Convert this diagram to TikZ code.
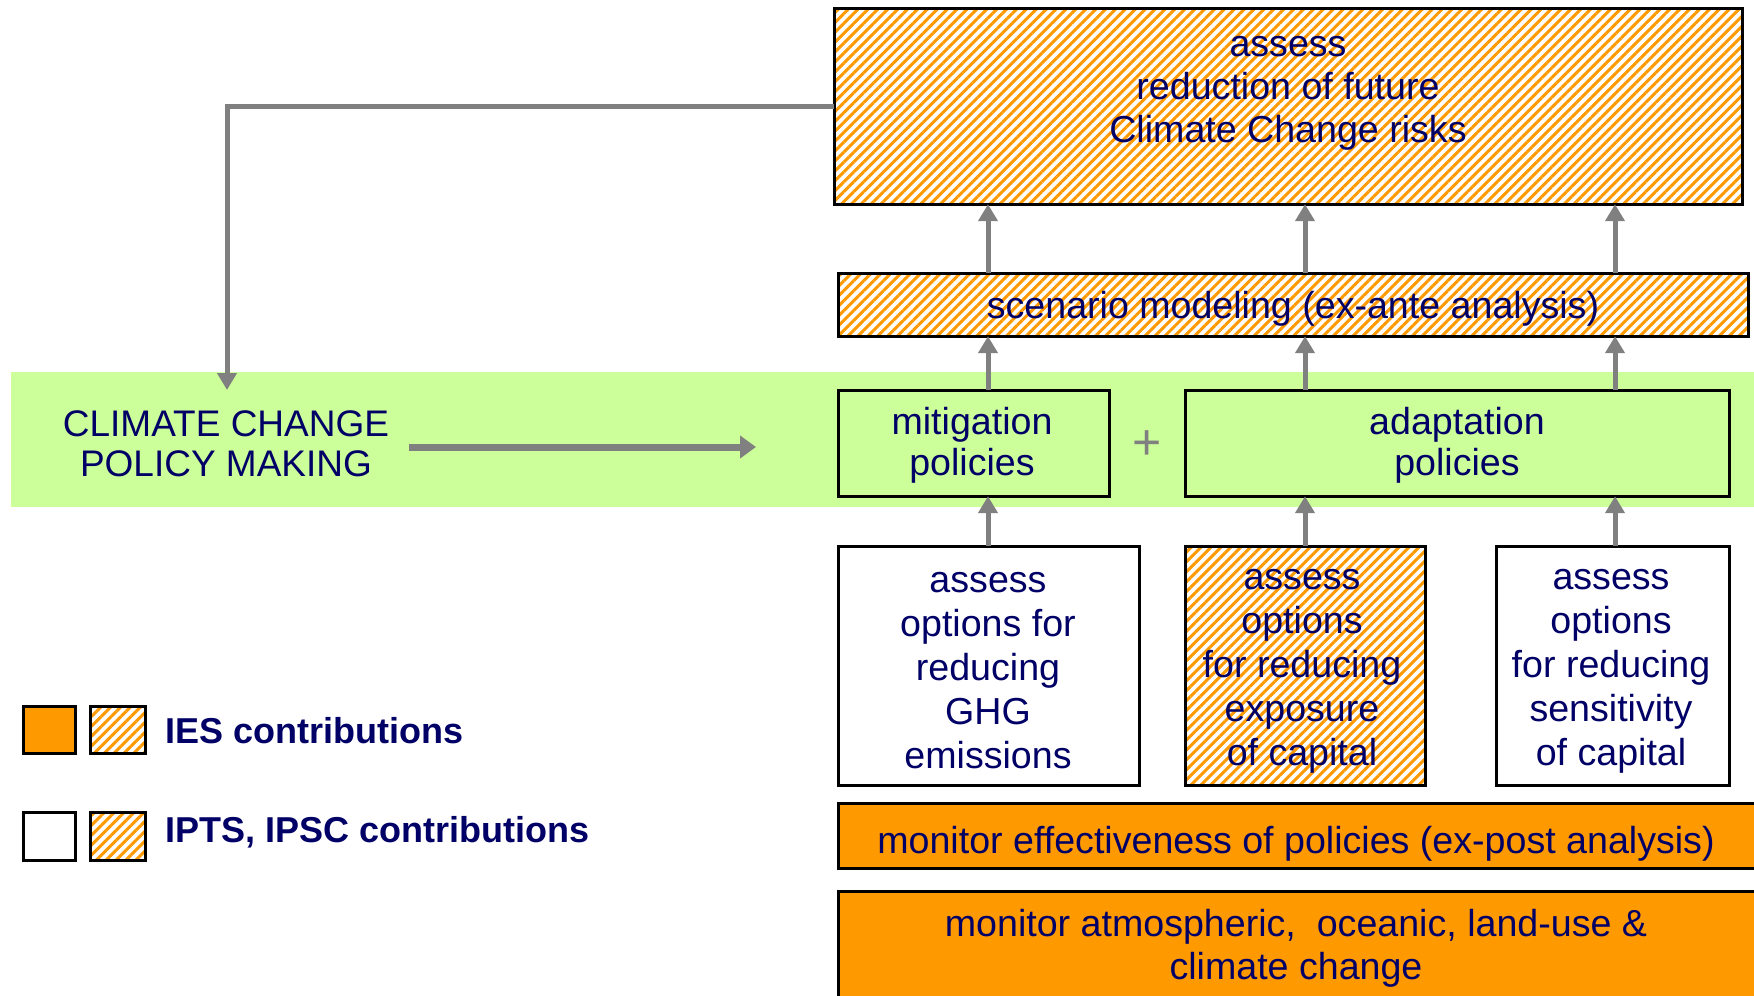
\documentclass[tikz,border=0pt]{standalone}
\usepackage{fontspec}
\setmainfont{Liberation Sans}
\usetikzlibrary{arrows.meta,patterns.meta}
\definecolor{ora}{RGB}{255,153,0}
\definecolor{grn}{RGB}{204,255,153}
\definecolor{arrg}{RGB}{128,128,128}
\definecolor{navy}{RGB}{0,0,102}
\tikzset{
  box/.style={draw=black, line width=3pt, inner sep=0pt, outer sep=0pt},
  hatch/.style={box, pattern={Lines[angle=45,distance=7pt,line width=3pt]}, pattern color=ora},
  solid/.style={box, fill=ora},
  green/.style={box, fill=grn},
  white/.style={box, fill=white},
  txt/.style={text=navy, align=center, font=\fontsize{37.6}{43}\selectfont, inner sep=0pt},
  arr/.style={draw=arrg, line width=5pt, -{Triangle[width=19pt,length=17pt]}},
  harr/.style={draw=arrg, line width=7pt, -{Triangle[width=22pt,length=16pt]}},
}
\begin{document}
\begin{tikzpicture}[x=1pt,y=-1pt]
\useasboundingbox (0,0) rectangle (1754,996);
\clip (0,0) rectangle (1754,996);
% green band
\fill[grn] (11,372) rectangle (1760,507);
% boxes
\draw[hatch] (834,8) rectangle (1742,204);
\node[inner sep=0pt, minimum width=908pt, minimum height=196pt] (top) at (1288,106) {};
\node[txt] at (1288,93) {assess\\reduction of future\\Climate Change risks};

\draw[hatch] (838,273) rectangle (1748,336);
\node[inner sep=0pt, minimum width=910pt, minimum height=63pt] (scen) at (1293,304.5) {};
\node[txt] at (1293,309) {scenario modeling (ex-ante analysis)};

\draw[green] (838,390) rectangle (1109,496);
\node[inner sep=0pt, minimum width=271pt, minimum height=106pt] (mit) at (973.5,443) {};
\node[txt, font=\fontsize{37.6}{41}\selectfont] at (972,445) {mitigation\\policies};

\draw[green] (1185,390) rectangle (1729,496);
\node[inner sep=0pt, minimum width=544pt, minimum height=106pt] (ada) at (1457,443) {};
\node[txt, font=\fontsize{37.6}{41}\selectfont] at (1457,445) {adaptation\\policies};

\node[text=arrg, font=\fontsize{50}{50}\selectfont, inner sep=0pt] (plus) at (1147,445) {+};

\draw[white] (838,546) rectangle (1139,785);
\node[inner sep=0pt, minimum width=301pt, minimum height=239pt] (b1) at (988.5,665.5) {};
\node[txt, font=\fontsize{37.6}{44}\selectfont] at (988,671) {assess\\options for\\reducing\\GHG\\emissions};

\draw[hatch] (1185,546) rectangle (1425,785);
\node[inner sep=0pt, minimum width=240pt, minimum height=239pt] (b2) at (1305,665.5) {};
\node[txt, font=\fontsize{37.6}{44}\selectfont] at (1302,671) {assess\\options\\for reducing\\exposure\\of capital};

\draw[white] (1496,546) rectangle (1729,785);
\node[inner sep=0pt, minimum width=233pt, minimum height=239pt] (b3) at (1612.5,665.5) {};
\node[txt, font=\fontsize{37.6}{44}\selectfont] at (1611,671) {assess\\options\\for reducing\\sensitivity\\of capital};

\draw[solid] (838,803) rectangle (1760,868);
\node[txt] (mon1) at (1296,844) {monitor effectiveness of policies (ex-post analysis)};

\draw[solid] (838,891) rectangle (1760,1010);
\node[txt] (mon2) at (1296,948) {monitor atmospheric,\ \ oceanic, land-use \&\\climate change};

% policy making text
\node[txt, font=\fontsize{37}{40}\selectfont] (cc) at (226,444) {CLIMATE CHANGE\\POLICY MAKING};

% connectors
\coordinate (x1) at (988,0);
\coordinate (x2) at (1305,0);
\coordinate (x3) at (1615,0);
\draw[arr] (scen.north -| x1) -- (top.south -| x1);
\draw[arr] (scen.north -| x2) -- (top.south -| x2);
\draw[arr] (scen.north -| x3) -- (top.south -| x3);
\draw[arr] (mit.north -| x1) -- (scen.south -| x1);
\draw[arr] (ada.north -| x2) -- (scen.south -| x2);
\draw[arr] (ada.north -| x3) -- (scen.south -| x3);
\draw[arr] (b1.north -| x1) -- (mit.south -| x1);
\draw[arr] (b2.north -| x2) -- (ada.south -| x2);
\draw[arr] (b3.north -| x3) -- (ada.south -| x3);

\coordinate (fb) at (227,390);
\draw[arr] (top.west) -| (fb);
\coordinate (hs) at (409,447);
\coordinate (he) at (756,447);
\draw[harr] (hs) -- (he);

% legend
\draw[solid] (23,706) rectangle (75,753);
\draw[hatch] (90,706) rectangle (145,753);
\node[text=navy, font=\fontsize{36}{40}\selectfont\bfseries, anchor=west, inner sep=0pt] (l1) at (165,731) {IES contributions};
\draw[white] (23,812) rectangle (75,860);
\draw[hatch] (90,812) rectangle (145,860);
\node[text=navy, font=\fontsize{36}{40}\selectfont\bfseries, anchor=west, inner sep=0pt] (l2) at (165,832) {IPTS, IPSC contributions};
\end{tikzpicture}
\end{document}
